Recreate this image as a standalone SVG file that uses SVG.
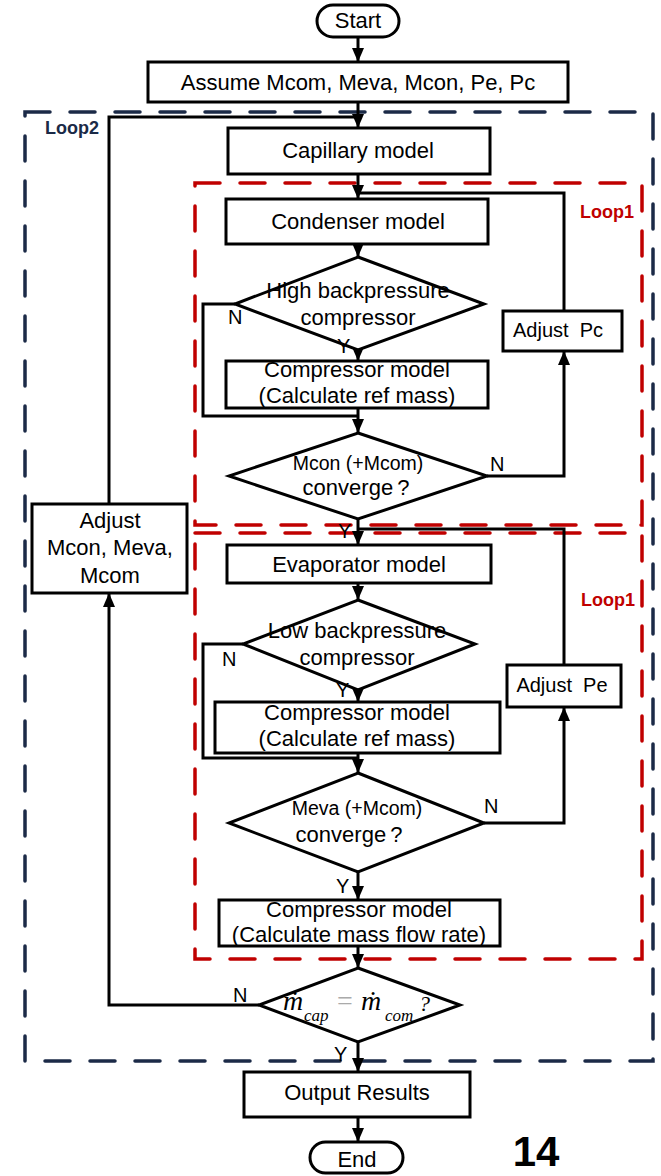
<svg xmlns="http://www.w3.org/2000/svg" width="661" height="1176" viewBox="0 0 661 1176">
  <style>
    .box{fill:#fff;stroke:#000;stroke-width:3}
    .ln{fill:none;stroke:#000;stroke-width:3}
    .loop2{fill:none;stroke:#1b2a47;stroke-width:3.5;stroke-dasharray:25 20;stroke-linecap:round}
    .loop1{fill:none;stroke:#c00000;stroke-width:3.5;stroke-dasharray:25 20;stroke-linecap:round}
    .t{font-family:"Liberation Sans",Arial,sans-serif;font-size:22px;text-anchor:middle;fill:#000}
    .s{font-size:20px}
    .lab{font-family:"Liberation Sans",Arial,sans-serif;font-size:20px;fill:#000}
    .lp{font-family:"Liberation Sans",Arial,sans-serif;font-size:18px;font-weight:bold}
    .eq{font-family:"Liberation Serif","DejaVu Serif",serif;font-size:28px;font-style:italic;fill:#000}
  </style>
  <defs>
    <marker id="arr" markerUnits="userSpaceOnUse" markerWidth="14" markerHeight="12" refX="14" refY="6" orient="auto">
      <path d="M0,0 L14,6 L0,12 z" fill="#000"/>
    </marker>
  </defs>

  <!-- loop frames -->
  <g id="loops">
    <rect class="loop2" x="25" y="112" width="628" height="949"/>
    <text class="lp" x="45" y="134" fill="#1b2a47">Loop2</text>
    <rect class="loop1" x="195" y="183" width="447" height="342"/>
    <text class="lp" x="580" y="218" fill="#c00000">Loop1</text>
    <rect class="loop1" x="195" y="533" width="447" height="426"/>
    <text class="lp" x="581" y="606" fill="#c00000">Loop1</text>
  </g>

  <!-- connectors -->
  <g id="connectors">
    <path class="ln" d="M358,37 V62" marker-end="url(#arr)"/>
    <path class="ln" d="M358,102 V128" marker-end="url(#arr)"/>
    <path class="ln" d="M109,504 V117 H358"/>
    <path class="ln" d="M358,174 V199" marker-end="url(#arr)"/>
    <path class="ln" d="M564,311 V193 H358"/>
    <path class="ln" d="M358,244 V257" marker-end="url(#arr)"/>
    <path class="ln" d="M358,350 V361" marker-end="url(#arr)"/>
    <path class="ln" d="M235,304 H203 V416 H358"/>
    <path class="ln" d="M358,408 V433" marker-end="url(#arr)"/>
    <path class="ln" d="M487,476 H564 V351" marker-end="url(#arr)"/>
    <path class="ln" d="M358,519 V545" marker-end="url(#arr)"/>
    <path class="ln" d="M564,665 V529 H358"/>
    <path class="ln" d="M358,583 V600" marker-end="url(#arr)"/>
    <path class="ln" d="M358,690 V702" marker-end="url(#arr)"/>
    <path class="ln" d="M243,644 H203 V758 H358"/>
    <path class="ln" d="M358,753 V773" marker-end="url(#arr)"/>
    <path class="ln" d="M484,823 H564 V707" marker-end="url(#arr)"/>
    <path class="ln" d="M358,872 V900" marker-end="url(#arr)"/>
    <path class="ln" d="M358,946 V968" marker-end="url(#arr)"/>
    <path class="ln" d="M259,1005 H109 V593" marker-end="url(#arr)"/>
    <path class="ln" d="M358,1042 V1072" marker-end="url(#arr)"/>
    <path class="ln" d="M358,1117 V1142" marker-end="url(#arr)"/>
  </g>

  <g id="start">
    <rect class="box" x="317" y="5" width="82" height="32" rx="16"/>
    <text class="t" x="358" y="28">Start</text>
  </g>
  <g id="assume">
    <rect class="box" x="148" y="62" width="420" height="40"/>
    <text class="t" x="358" y="90">Assume Mcom, Meva, Mcon, Pe, Pc</text>
  </g>
  <g id="capillary">
    <rect class="box" x="228" y="128" width="262" height="46"/>
    <text class="t" x="358" y="158">Capillary model</text>
  </g>
  <g id="condenser">
    <rect class="box" x="226" y="199" width="262" height="45"/>
    <text class="t" x="358" y="229">Condenser model</text>
  </g>
  <g id="high-bp">
    <polygon class="box" points="358,257 484,304 358,350 235,304"/>
    <text class="t" x="358" y="298">High backpressure</text>
    <text class="t" x="358" y="325">compressor</text>
  </g>
  <g id="comp1">
    <rect class="box" x="226" y="361" width="262" height="47"/>
    <text class="t" x="357" y="377">Compressor model</text>
    <text class="t" x="357" y="403">(Calculate ref mass)</text>
  </g>
  <g id="adjust-pc">
    <rect class="box" x="503" y="311" width="119" height="40"/>
    <text class="t s" x="558" y="337" style="white-space:pre">Adjust  Pc</text>
  </g>
  <g id="mcon-conv">
    <polygon class="box" points="358,433 487,476 358,519 229,476"/>
    <text class="t" x="358" y="470" style="font-size:19.5px">Mcon (+Mcom)</text>
    <text class="t" x="356" y="495">converge<tspan dx="4">?</tspan></text>
  </g>
  <g id="adjust-m">
    <rect class="box" x="32" y="504" width="155" height="89"/>
    <text class="t" x="110" y="528">Adjust</text>
    <text class="t" x="110" y="555">Mcon, Meva,</text>
    <text class="t" x="110" y="583">Mcom</text>
  </g>
  <g id="evaporator">
    <rect class="box" x="227" y="545" width="264" height="38"/>
    <text class="t" x="359" y="572">Evaporator model</text>
  </g>
  <g id="low-bp">
    <polygon class="box" points="358,600 475,644 358,690 243,644"/>
    <text class="t" x="357" y="638">Low backpressure</text>
    <text class="t" x="357" y="665">compressor</text>
  </g>
  <g id="comp2">
    <rect class="box" x="215" y="702" width="285" height="51"/>
    <text class="t" x="357" y="720">Compressor model</text>
    <text class="t" x="357" y="746">(Calculate ref mass)</text>
  </g>
  <g id="adjust-pe">
    <rect class="box" x="507" y="665" width="114" height="42"/>
    <text class="t s" x="562" y="692" style="white-space:pre">Adjust  Pe</text>
  </g>
  <g id="meva-conv">
    <polygon class="box" points="358,773 484,823 358,872 229,823"/>
    <text class="t" x="357" y="815" style="font-size:19.5px">Meva (+Mcom)</text>
    <text class="t" x="349" y="842">converge<tspan dx="4">?</tspan></text>
  </g>
  <g id="comp3">
    <rect class="box" x="219" y="900" width="281" height="46"/>
    <text class="t" x="359" y="917">Compressor model</text>
    <text class="t" x="359" y="942">(Calculate mass flow rate)</text>
  </g>
  <g id="flow-eq">
    <polygon class="box" points="358,968 460,1005 358,1042 259,1005"/>
    <text class="eq"><tspan x="283" y="1010">ṁ</tspan><tspan x="304" y="1021" font-size="17">cap</tspan><tspan x="337" y="1010" font-style="normal" fill="#aaaaaa">=</tspan><tspan x="361" y="1010">ṁ</tspan><tspan x="385" y="1021" font-size="17">com</tspan><tspan x="419" y="1011" font-size="22">?</tspan></text>
  </g>
  <g id="output">
    <rect class="box" x="244" y="1072" width="226" height="45"/>
    <text class="t" x="357" y="1100">Output Results</text>
  </g>
  <g id="end">
    <rect class="box" x="310" y="1142" width="93" height="31" rx="15.5"/>
    <text class="t" x="357" y="1167">End</text>
  </g>

  <!-- branch labels, drawn over the shapes -->
  <g id="branch-labels">
    <text class="lab" x="228" y="324">N</text>
    <text class="lab" x="337" y="353">Y</text>
    <text class="lab" x="490" y="471">N</text>
    <text class="lab" x="338" y="538">Y</text>
    <text class="lab" x="222" y="666">N</text>
    <text class="lab" x="336" y="697">Y</text>
    <text class="lab" x="484" y="813">N</text>
    <text class="lab" x="336" y="893">Y</text>
    <text class="lab" x="233" y="1002">N</text>
    <text class="lab" x="334" y="1061">Y</text>
  </g>

  <text x="536" y="1166" font-family="'Liberation Sans',Arial,sans-serif" font-size="42" font-weight="bold" text-anchor="middle">14</text>
</svg>
